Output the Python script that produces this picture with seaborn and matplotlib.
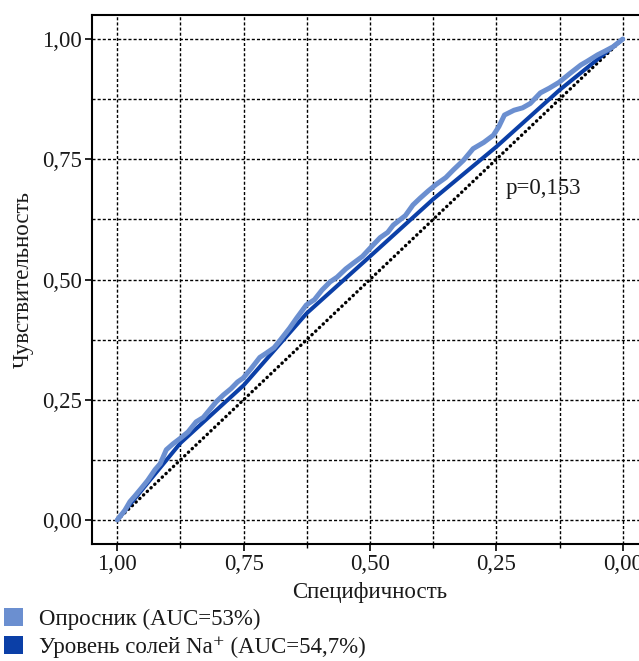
import matplotlib
matplotlib.use("Agg")
import matplotlib.pyplot as plt
import seaborn as sns
import pandas as pd
from matplotlib.patches import Patch
from matplotlib.ticker import MultipleLocator, FuncFormatter

# ---- data ----
survey_spec = [1.0, 0.985, 0.975, 0.965, 0.95, 0.94, 0.925, 0.915, 0.903, 0.89, 0.875,
               0.86, 0.844, 0.83, 0.815, 0.804, 0.79, 0.775, 0.762, 0.751, 0.735,
               0.718, 0.705, 0.69, 0.679, 0.659, 0.645, 0.626, 0.61, 0.595, 0.579,
               0.565, 0.548, 0.533, 0.515, 0.5, 0.48, 0.465, 0.454, 0.43, 0.415, 0.401,
               0.385, 0.37, 0.35, 0.335, 0.315, 0.296, 0.275, 0.256, 0.245, 0.234,
               0.215, 0.198, 0.183, 0.163, 0.145, 0.126, 0.105, 0.083, 0.07, 0.05,
               0.035, 0.019, 0.0]
survey_sens = [0.0, 0.02, 0.038, 0.05, 0.069, 0.082, 0.105, 0.117, 0.146, 0.158, 0.170,
               0.183, 0.204, 0.213, 0.232, 0.246, 0.260, 0.273, 0.287, 0.295, 0.315,
               0.338, 0.347, 0.358, 0.372, 0.399, 0.420, 0.447, 0.458, 0.478, 0.495,
               0.505, 0.522, 0.534, 0.548, 0.565, 0.587, 0.598, 0.613, 0.633, 0.655, 0.669,
               0.684, 0.697, 0.712, 0.728, 0.748, 0.772, 0.785, 0.800, 0.818, 0.842,
               0.852, 0.857, 0.866, 0.888, 0.898, 0.910, 0.928, 0.946, 0.954, 0.967,
               0.975, 0.984, 1.0]
na_spec = [1.0, 0.875, 0.75, 0.625, 0.5, 0.375, 0.25, 0.125, 0.0]
na_sens = [0.0, 0.16, 0.28, 0.43, 0.548, 0.667, 0.776, 0.894, 1.0]
diag_spec = [1.0, 0.0]
diag_sens = [0.0, 1.0]

series_names = ["Опросник (AUC=53%)", "Уровень солей Na\u207a (AUC=54,7%)"]
colors = ["#6b8fd0", "#0b3fa7"]
x_ticks = [1.0, 0.75, 0.5, 0.25, 0.0]
y_ticks = [0.0, 0.25, 0.5, 0.75, 1.0]
annotation = "p=0,153"
x_label = "Специфичность"
y_label = "Чувствительность"

FS = 16.5
TXT = "#1a1a1a"

sns.set_theme(style="white")
plt.rcParams["font.family"] = ["Liberation Serif", "DejaVu Serif"]
plt.rcParams["font.size"] = FS

fig = plt.figure(figsize=(6.39, 6.61), dpi=100)
ax = fig.add_axes([92/639, 1-544/661, (648-92)/639, (544-15)/661])

df_s = pd.DataFrame({"spec": survey_spec, "sens": survey_sens})
df_n = pd.DataFrame({"spec": na_spec, "sens": na_sens})
df_d = pd.DataFrame({"spec": diag_spec, "sens": diag_sens})

sns.lineplot(data=df_d, x="spec", y="sens", sort=False, estimator=None, ax=ax,
             color="black", lw=2.4, linestyle=(0, (0.1, 1.45)),
             dash_capstyle="round", zorder=3)
sns.lineplot(data=df_n, x="spec", y="sens", sort=False, estimator=None, ax=ax,
             color=colors[1], lw=2.9, zorder=4)
sns.lineplot(data=df_s, x="spec", y="sens", sort=False, estimator=None, ax=ax,
             color=colors[0], lw=3.6, zorder=5, solid_joinstyle="round")

ax.set_xlim(1.05, -0.05)
ax.set_ylim(-0.05, 1.05)
ax.xaxis.set_minor_locator(MultipleLocator(0.125))
ax.yaxis.set_minor_locator(MultipleLocator(0.125))
ax.set_xticks(x_ticks)
ax.set_yticks(y_ticks)
fmt = FuncFormatter(lambda v, p: f"{v:.2f}".replace(".", ","))
ax.xaxis.set_major_formatter(fmt)
ax.yaxis.set_major_formatter(fmt)

ax.grid(True, which="both", color="black", lw=1.0, linestyle=(0, (2.2, 1.5)))
ax.set_axisbelow(True)
ax.tick_params(axis="both", which="major", length=5, width=1.2, color="black",
               labelsize=FS, labelcolor=TXT, pad=2, bottom=True, left=True)
ax.tick_params(axis="x", which="minor", length=3, width=1.0, color="black", bottom=True)
for s in ["left", "top", "bottom", "right"]:
    ax.spines[s].set_color("black")
    ax.spines[s].set_linewidth(1.5)

ax.set_xlabel(x_label, fontsize=FS, color=TXT, labelpad=5)
ax.set_ylabel(y_label, fontsize=FS, color=TXT, labelpad=6)

ax.text(0.232, 0.69, annotation, fontsize=FS, color=TXT, va="center", ha="left")

handles = [Patch(facecolor=c, edgecolor="none") for c in colors]
fig.legend(handles, series_names, loc="upper left", bbox_to_anchor=(0.003, 1-606/661),
           frameon=False, fontsize=FS, handlelength=0.83, handleheight=0.83,
           handletextpad=0.7, labelspacing=0.27, borderpad=0.1, borderaxespad=0.0,
           labelcolor=TXT)

fig.savefig("out.png", dpi=100)
